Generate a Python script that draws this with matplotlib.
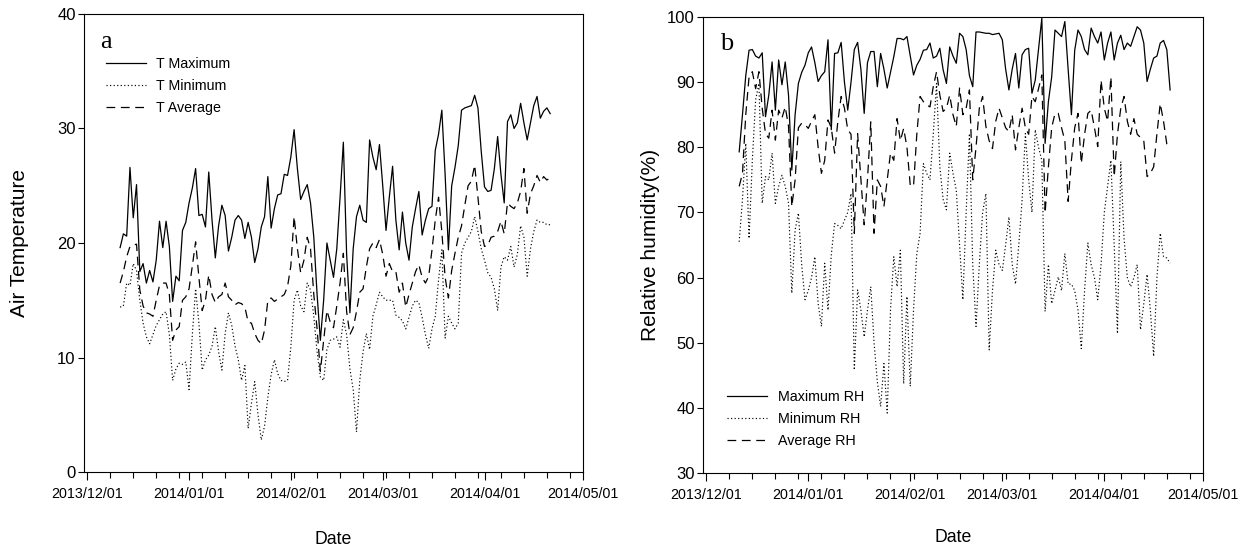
import matplotlib
matplotlib.use("Agg")
import matplotlib.pyplot as plt
import matplotlib.dates as mdates
from matplotlib import font_manager
import pandas as pd

# ---------------- data (daily, 2013-12-11 .. 2014-04-21) ----------------
start_date = "2013-12-11"

t_max = [19.6, 20.8, 20.6, 26.6, 22.2, 25.1, 17.5, 18.2, 16.5, 17.6,
         16.6, 18.5, 21.9, 19.6, 21.9, 19.7, 14.9, 17.1, 16.7, 21.1,
         21.8, 23.5, 24.8, 26.5, 22.4, 22.5, 21.4, 26.2, 22.0, 18.7,
         21.5, 23.3, 22.4, 19.3, 20.5, 22.0, 22.4, 22.0, 20.4, 21.8,
         20.5, 18.3, 19.5, 21.4, 22.3, 25.8, 21.3, 23.0, 24.2, 24.3,
         26.0, 25.9, 27.5, 29.9, 26.5, 23.8, 24.5, 25.1, 23.5, 20.5,
         15.5, 11.5, 15.0, 20.0, 18.5, 17.0, 19.5, 24.0, 28.8, 19.0,
         13.9, 19.5, 22.3, 23.3, 22.0, 21.8, 29.0, 27.5, 26.4, 28.6,
         25.0, 21.1, 24.0, 26.7, 22.0, 19.4, 22.7, 20.0, 18.5, 21.4,
         23.0, 24.5, 20.7, 22.0, 23.0, 23.2, 28.1, 29.5, 31.6, 26.0,
         19.4, 25.0, 26.6, 28.5, 31.6, 31.8, 31.9, 32.0, 32.9, 31.8,
         28.0, 24.9, 24.5, 24.6, 26.5, 29.3, 26.0, 23.5, 30.6, 31.2,
         30.0, 30.5, 32.2, 30.5, 29.0, 30.5, 32.0, 32.8, 30.9, 31.5,
         31.8, 31.3]

t_min = [14.4, 14.5, 16.5, 16.3, 18.2, 17.6, 15.0, 13.0, 11.8, 11.2,
         12.0, 12.8, 13.3, 13.8, 14.0, 12.0, 8.0, 9.0, 9.5, 9.4,
         9.6, 7.2, 12.0, 16.0, 13.0, 8.9, 9.8, 10.2, 11.0, 12.7,
         10.5, 8.9, 12.1, 13.9, 12.8, 11.0, 9.8, 8.0, 9.3, 3.8,
         6.0, 7.9, 5.0, 2.8, 4.0, 6.5, 8.5, 9.8, 8.6, 8.0,
         7.9, 8.0, 10.9, 15.0, 15.9, 14.5, 14.0, 16.5, 15.9, 13.6,
         10.5, 8.3, 8.0, 10.7, 11.5, 11.6, 11.8, 10.9, 13.3, 12.0,
         9.0, 7.2, 3.5, 8.0, 10.5, 12.1, 10.7, 13.6, 14.6, 15.7,
         15.3, 15.0, 15.0, 15.0, 13.7, 13.5, 13.2, 12.5, 13.5, 14.5,
         15.0, 14.8, 13.5, 12.0, 10.8, 12.5, 13.6, 16.8, 19.4, 11.7,
         13.6, 13.0, 12.5, 13.0, 19.1, 20.0, 20.5, 21.0, 22.3, 21.0,
         19.5, 18.5, 17.4, 17.0, 16.0, 14.1, 17.9, 18.8, 18.5, 19.7,
         17.9, 19.0, 21.5, 20.5, 17.1, 19.5, 21.0, 22.0, 21.8, 21.8,
         21.6, 21.6]

t_avg = [16.5, 17.5, 18.8, 19.7, 19.8, 19.9, 15.9, 14.5, 13.9, 13.8,
         13.6, 15.0, 16.3, 16.5, 16.5, 15.5, 11.5, 12.4, 12.7, 15.0,
         15.3, 16.0, 18.0, 20.1, 17.0, 14.1, 15.0, 17.2, 15.5, 14.8,
         15.3, 15.5, 16.5, 15.3, 15.0, 14.6, 14.8, 14.7, 14.4, 13.1,
         13.0, 12.1, 11.5, 11.2, 12.4, 15.0, 15.2, 14.9, 15.1, 15.3,
         15.5, 16.2, 18.0, 22.3, 19.5, 17.4, 18.5, 20.5, 19.5, 15.5,
         12.5, 8.8, 11.5, 14.1, 13.1, 12.6, 14.5, 16.5, 19.1, 14.0,
         12.0, 12.6, 14.0, 15.7, 16.0, 17.9, 19.5, 20.0, 19.6, 20.3,
         19.0, 17.1, 18.2, 17.5, 17.5, 15.7, 16.5, 14.4, 15.5, 16.5,
         17.5, 18.1, 17.0, 16.5, 17.1, 19.4, 22.0, 24.0, 21.0, 17.0,
         15.2, 17.6, 19.1, 20.5, 21.5, 23.3, 25.0, 25.4, 26.8, 24.0,
         21.0, 19.7, 19.8, 20.5, 20.6, 21.0, 21.9, 20.8, 23.5, 23.2,
         23.0, 23.5, 24.5, 26.5, 22.6, 24.3, 25.0, 25.9, 25.3, 25.8,
         25.5, 25.7]

rh_max = [79.3, 85.0, 91.0, 94.9, 95.0, 94.0, 93.7, 94.5, 84.7, 88.0,
          93.1, 85.7, 93.4, 89.6, 93.1, 88.0, 76.5, 85.0, 89.8, 91.5,
          92.6, 94.5, 95.4, 93.0, 90.1, 91.0, 91.6, 96.5, 82.7, 94.4,
          94.5, 96.1, 90.0, 85.7, 90.0, 95.0, 96.1, 92.0, 85.2, 93.0,
          94.7, 94.7, 89.3, 94.4, 92.0, 89.1, 91.5, 93.9, 96.7, 96.7,
          96.5, 97.0, 94.0, 91.1, 92.6, 93.5, 94.9, 95.0, 96.0, 93.7,
          94.0, 95.2, 91.9, 89.8, 95.4, 94.0, 92.9, 97.5, 97.0, 95.0,
          91.0, 89.3, 97.7, 97.7, 97.6, 97.5, 97.5, 97.3, 97.4, 97.5,
          96.5, 92.0, 88.8, 92.0, 94.4, 89.1, 94.2, 95.0, 95.2, 88.3,
          90.3, 95.0, 99.8, 80.6, 87.0, 90.8, 98.0, 97.5, 97.0, 99.3,
          92.0, 85.0, 94.9, 98.0, 97.0, 95.0, 94.2, 98.3, 97.0, 96.0,
          97.7, 93.4, 96.0, 97.7, 93.4, 96.0, 97.2, 95.0, 96.0, 95.5,
          97.0, 98.5, 98.0, 96.0, 90.1, 92.0, 93.7, 94.0, 96.0, 96.4,
          95.0, 88.8]

rh_avg = [74.0, 76.0, 85.0, 90.8, 91.6, 89.0, 91.6, 86.0, 82.1, 81.4,
          85.7, 81.1, 85.7, 84.5, 86.2, 83.2, 70.9, 75.0, 83.0, 83.7,
          83.5, 82.9, 84.0, 85.0, 80.0, 76.0, 78.0, 84.2, 83.0, 79.1,
          84.0, 87.8, 86.0, 82.7, 82.0, 66.8, 82.1, 75.0, 68.1, 75.0,
          83.9, 66.8, 75.0, 74.0, 70.9, 75.0, 79.1, 78.0, 84.4, 81.0,
          82.9, 80.0, 74.2, 74.0, 82.0, 87.8, 87.0, 86.5, 86.2, 89.3,
          91.6, 88.0, 85.5, 86.0, 88.0, 85.0, 83.2, 89.1, 85.0, 86.0,
          88.8, 75.0, 80.0, 86.0, 87.8, 83.2, 81.0, 79.8, 84.0, 86.0,
          84.5, 83.0, 82.4, 85.0, 79.6, 83.0, 86.0, 83.0, 82.0, 87.8,
          87.0, 89.0, 91.1, 69.9, 77.0, 83.0, 85.2, 85.2, 83.0, 81.0,
          71.7, 78.0, 83.0, 85.2, 77.5, 82.0, 85.2, 85.7, 83.0, 80.1,
          90.3, 86.0, 84.0, 90.8, 75.5, 82.0, 86.0, 87.8, 84.0, 82.0,
          84.4, 82.0, 81.5, 81.0, 75.5, 76.0, 77.0, 82.1, 86.7, 84.0,
          80.5, 79.8]

rh_min = [65.5, 72.0, 80.6, 66.0, 78.0, 87.3, 89.8, 71.4, 75.5, 75.0,
          79.1, 71.4, 74.0, 75.7, 74.0, 71.4, 57.6, 67.3, 69.9, 62.0,
          56.6, 58.0, 60.0, 63.2, 56.0, 52.5, 62.2, 55.0, 63.5, 68.3,
          68.0, 67.5, 68.8, 70.0, 72.9, 45.8, 58.1, 55.0, 50.9, 55.0,
          58.6, 50.0, 44.0, 40.2, 46.8, 39.2, 55.0, 63.2, 58.6, 64.2,
          43.7, 57.1, 43.3, 55.0, 63.7, 66.8, 77.5, 76.0, 75.0, 82.0,
          89.8, 77.0, 72.0, 70.4, 79.1, 76.0, 73.4, 65.0, 56.6, 70.0,
          82.1, 62.0, 52.5, 62.0, 70.0, 72.9, 48.9, 58.0, 64.2, 62.0,
          61.1, 65.0, 69.3, 62.0, 59.0, 65.0, 71.9, 82.1, 75.0, 70.0,
          82.7, 80.0, 78.0, 54.8, 62.0, 56.0, 58.0, 60.1, 58.0, 63.7,
          59.0, 59.0, 58.0, 55.0, 49.1, 58.0, 65.3, 62.0, 60.0, 56.6,
          62.0, 70.0, 74.0, 78.0, 65.0, 51.4, 77.8, 66.0, 60.0, 58.6,
          60.0, 62.0, 52.0, 56.0, 60.5, 55.0, 47.9, 60.0, 66.8, 63.2,
          63.0, 62.2]

temp_labels = ["T Maximum", "T Minimum", "T Average"]
rh_labels = ["Maximum RH", "Minimum RH", "Average RH"]

dates = pd.date_range(start_date, periods=len(t_max), freq="D")

# ---------------- fonts ----------------
names = {f.name for f in font_manager.fontManager.ttflist}
if "Liberation Sans Narrow" in names:
    NARROW, nscale = "Liberation Sans Narrow", 1.0
else:
    NARROW, nscale = "Liberation Sans", 0.82
SANS = "Liberation Sans" if "Liberation Sans" in names else "DejaVu Sans"
SERIF = "Liberation Serif" if "Liberation Serif" in names else "DejaVu Serif"

plt.rcParams["font.family"] = SANS
plt.rcParams["axes.linewidth"] = 0.8

fig = plt.figure(figsize=(12.43, 5.51), dpi=100)
ax1 = fig.add_axes([84 / 1243, 1 - 472 / 551, 499 / 1243, 458 / 551])
ax2 = fig.add_axes([703 / 1243, 1 - 473 / 551, 500 / 1243, 456 / 551])

LW = 0.9
solid = dict(color="black", lw=LW, linestyle="-")
dotted = dict(color="black", lw=0.85, linestyle=(0, (1.0, 2.0)))
dashed = dict(color="black", lw=LW, linestyle=(0, (7.0, 4.5)))


def style_axis(ax, ylim, yticks):
    ax.set_xlim(pd.Timestamp("2013-11-30"), pd.Timestamp("2014-05-01"))
    ax.set_ylim(*ylim)
    ax.set_yticks(yticks)
    ax.xaxis.set_major_locator(mdates.MonthLocator())
    ax.xaxis.set_major_formatter(mdates.DateFormatter("%Y/%m/%d"))
    ax.xaxis.set_minor_locator(mdates.WeekdayLocator(byweekday=mdates.SU))
    ax.tick_params(axis="x", which="major", direction="out", length=6, width=0.8, pad=5)
    ax.tick_params(axis="x", which="minor", direction="out", length=4, width=0.8)
    ax.tick_params(axis="y", which="major", direction="out", length=4, width=0.8, pad=2)
    ax.tick_params(top=False, right=False)
    for lab in ax.get_xticklabels():
        lab.set_fontfamily(NARROW)
        lab.set_fontsize(12.5 * nscale)
    for lab in ax.get_yticklabels():
        lab.set_fontfamily(SANS)
        lab.set_fontsize(12)
    for s in ax.spines.values():
        s.set_linewidth(0.8)


# ---------------- panel a ----------------
ax1.plot(dates, t_max, label=temp_labels[0], **solid)
ax1.plot(dates, t_min, label=temp_labels[1], **dotted)
ax1.plot(dates, t_avg, label=temp_labels[2], **dashed)
style_axis(ax1, (0, 40), [0, 10, 20, 30, 40])
leg1 = ax1.legend(loc="upper left", bbox_to_anchor=(0.044, 0.906), frameon=False,
                  borderpad=0, borderaxespad=0, handlelength=2.8, handletextpad=0.75,
                  labelspacing=0.55, prop={"family": NARROW, "size": 12.5 * nscale})
ax1.text(0.032, 0.926, "a", transform=ax1.transAxes, fontsize=19,
         family=SERIF, va="baseline", ha="left")
fig.text(20 / 1243, 1 - 243 / 551, "Air Temperature", rotation=90,
         ha="center", va="center", fontsize=15, family=SANS)
fig.text(333 / 1243, 1 - 540 / 551, "Date", ha="center", va="center",
         fontsize=15.5 * nscale, family=NARROW)

# ---------------- panel b ----------------
ax2.plot(dates, rh_max, label=rh_labels[0], **solid)
ax2.plot(dates, rh_min, label=rh_labels[1], **dotted)
ax2.plot(dates, rh_avg, label=rh_labels[2], **dashed)
style_axis(ax2, (30, 100), [30, 40, 50, 60, 70, 80, 90, 100])
leg2 = ax2.legend(loc="upper left", bbox_to_anchor=(0.048, 0.181), frameon=False,
                  borderpad=0, borderaxespad=0, handlelength=2.8, handletextpad=0.75,
                  labelspacing=0.55, prop={"family": NARROW, "size": 12.5 * nscale})
ax2.text(0.034, 0.928, "b", transform=ax2.transAxes, fontsize=19,
         family=SERIF, va="baseline", ha="left")
fig.text(650 / 1243, 1 - 245 / 551, "Relative humidity(%)", rotation=90,
         ha="center", va="center", fontsize=15, family=SANS)
fig.text(953 / 1243, 1 - 537 / 551, "Date", ha="center", va="center",
         fontsize=15.5 * nscale, family=NARROW)

fig.savefig("out.png", dpi=100)
